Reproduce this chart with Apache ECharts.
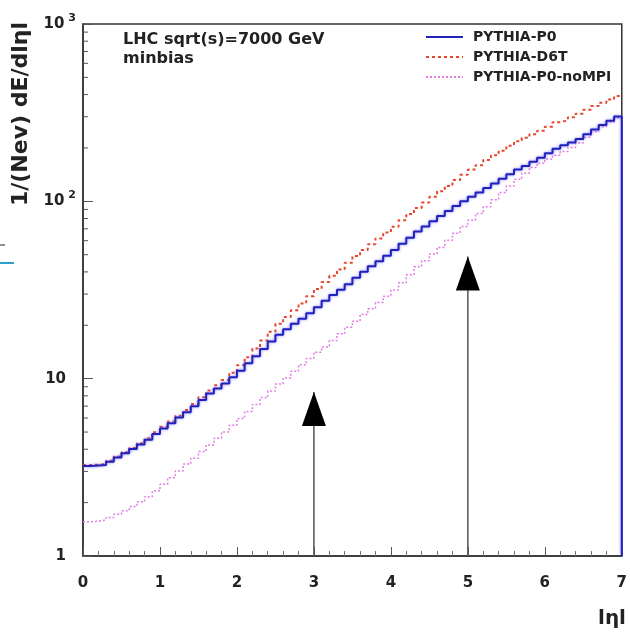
<!DOCTYPE html>
<html>
<head>
<meta charset="utf-8">
<script src="https://cdn.jsdelivr.net/npm/echarts@6/dist/echarts.min.js"></script>
<style>
html,body{margin:0;padding:0;background:#fff;}
#chart{width:630px;height:634px;}
</style>
</head>
<body>
<div id="chart"></div>
<script>
// |eta| histogram: 70 bins of width 0.1 from 0 to 7
const etaMin = 0, etaMax = 7, binWidth = 0.1;
const seriesNames = ['PYTHIA-P0', 'PYTHIA-D6T', 'PYTHIA-P0-noMPI'];
const p0 = [3.22,3.24,3.26,3.40,3.59,3.80,4.01,4.25,4.52,4.88,
            5.24,5.60,6.03,6.47,6.98,7.59,8.24,8.81,9.38,10.2,
            11.1,12.2,13.4,14.7,16.2,17.7,19.0,20.4,21.8,23.4,
            25.3,27.5,29.6,31.7,34.1,37.1,40.1,43.0,46.0,49.4,
            53.2,57.7,62.4,67.5,72.1,77.3,82.6,88.1,94.2,100,
            106,112,119,126,134,142,151,158,167,176,
            187,198,207,215,225,239,254,269,285,301];
const d6t = [3.26,3.27,3.30,3.44,3.64,3.85,4.07,4.32,4.61,4.99,
             5.36,5.73,6.18,6.65,7.19,7.85,8.57,9.18,9.82,10.8,
             11.9,13.2,14.8,16.4,18.4,20.4,22.3,24.3,26.5,29.2,
             32.0,35.1,38.0,41.2,45.0,49.1,53.2,57.3,61.8,66.7,
             71.9,78.2,84.7,91.8,98.6,106,114,122,132,141,
             151,160,171,182,193,206,218,228,239,250,
             263,279,286,298,312,328,345,360,375,392];
const noMPI = [1.56,1.57,1.60,1.65,1.72,1.80,1.90,2.02,2.16,2.33,
               2.54,2.76,3.02,3.30,3.56,3.88,4.23,4.62,5.01,5.46,
               5.96,6.53,7.16,7.82,8.51,9.33,10.1,11.0,12.0,13.0,
               14.1,15.1,16.4,17.9,19.5,21.1,23.0,24.8,26.9,29.2,
               31.6,34.7,38.5,42.7,46.2,50.5,55.0,60.4,66.1,72.1,
               78.3,85.3,93.3,102,112,122,133,144,155,164,
               173,182,191,201,213,230,247,263,279,294];
// arrows (annotation): eta position and tip value
const arrowEta = [3, 5];
const arrowTip = [8.4, 48.8];
// log-axis minor tick values
const yMinorTicks = [2,3,4,5,6,7,8,9,20,30,40,50,60,70,80,90,200,300,400,500,600,700,800,900];

function toSteps(vals, drop) {
  const d = vals.map((v, i) => [+(etaMin + i * binWidth).toFixed(2), v]);
  d.push([etaMax, vals[vals.length - 1]]);
  if (drop) d.push([etaMax, 1]);
  return d;
}

const FONT = 'DejaVu Sans';
const chart = echarts.init(document.getElementById('chart'), null, {renderer: 'canvas'});

const series = [
  {name: seriesNames[0], type: 'line', step: 'end', symbol: 'none', showSymbol: false, data: toSteps(p0, true),
   lineStyle: {color: '#2222bb', width: 2, shadowBlur: 3, shadowColor: 'rgba(90,90,255,0.7)'}, itemStyle: {color: '#2222bb'}, z: 4},
  {name: seriesNames[1], type: 'line', step: 'end', symbol: 'none', showSymbol: false, data: toSteps(d6t, false),
   lineStyle: {color: '#e8452c', width: 2, type: [3, 3]}, itemStyle: {color: '#e8452c'}, z: 3},
  {name: seriesNames[2], type: 'line', step: 'end', symbol: 'none', showSymbol: false, data: toSteps(noMPI, true),
   lineStyle: {color: '#e37be3', width: 1.5, type: [2, 2]}, itemStyle: {color: '#e37be3'}, z: 3},
  {type: 'custom', silent: true, z: 5,
   data: yMinorTicks.map(v => [etaMin, v]),
   renderItem: function (params, api) {
     const p = api.coord([api.value(0), api.value(1)]);
     return {type: 'line', shape: {x1: p[0], y1: p[1], x2: p[0] + 5, y2: p[1]},
             style: {stroke: '#555', lineWidth: 1}};
   }}
];
arrowEta.forEach((x, k) => {
  series.push({type: 'line', symbol: 'none', silent: true, z: 6,
    data: [[x, 1], [x, arrowTip[k]]],
    lineStyle: {color: '#555', width: 1.5}});
  series.push({type: 'scatter', silent: true, z: 7,
    data: [[x, arrowTip[k]]], symbol: 'triangle', symbolSize: [24, 34],
    symbolOffset: [0, '50%'], itemStyle: {color: '#000', opacity: 1}});
});

chart.setOption({
  animation: false,
  backgroundColor: '#fff',
  grid: {left: 83, right: 5, top: 24, bottom: 78, show: true, borderColor: '#333', borderWidth: 1.5, backgroundColor: 'transparent'},
  legend: {
    data: seriesNames, orient: 'vertical', left: 420, top: 25,
    itemWidth: 37, itemHeight: 14, itemGap: 6,
    itemStyle: {opacity: 0},
    textStyle: {fontFamily: FONT, fontWeight: 'bold', fontSize: 14, color: '#222', padding: [0, 0, 0, 5]}
  },
  xAxis: {
    type: 'value', min: etaMin, max: etaMax, interval: 1,
    axisLine: {show: true, lineStyle: {color: '#333', width: 1.5}},
    axisTick: {show: true, inside: true, length: 9, lineStyle: {color: '#555'}},
    minorTick: {show: true, splitNumber: 5, length: 5, lineStyle: {color: '#777'}},
    splitLine: {show: false},
    axisLabel: {margin: 20, fontFamily: FONT, fontWeight: 'bold', fontSize: 15, color: '#222'}
  },
  yAxis: {
    type: 'log', logBase: 10, min: 1, max: 1000,
    axisLine: {show: true, lineStyle: {color: '#333', width: 1.5}},
    axisTick: {show: true, inside: true, length: 10, lineStyle: {color: '#555'}},
    splitLine: {show: false},
    axisLabel: {
      margin: 7, color: '#222',
      formatter: function (v) {
        if (v === 1000) return '{b|10}{s|3}';
        if (v === 100) return '{b|10}{s|2}';
        return '{p|' + v + '}';
      },
      rich: {
        b: {fontFamily: FONT, fontWeight: 'bold', fontSize: 15, color: '#222'},
        s: {fontFamily: FONT, fontWeight: 'bold', fontSize: 11, color: '#222', padding: [0, 0, 12, 4]},
        p: {fontFamily: FONT, fontWeight: 'bold', fontSize: 15, color: '#222', padding: [0, 10, 0, 0]}
      }
    }
  },
  graphic: [
    {type: 'text', left: 123, top: 32, style: {text: 'LHC sqrt(s)=7000 GeV', font: 'bold 16px "DejaVu Sans"', fill: '#222'}},
    {type: 'text', left: 123, top: 51, style: {text: 'minbias', font: 'bold 16px "DejaVu Sans"', fill: '#222'}},
    {type: 'text', x: 21, y: 22, rotation: Math.PI / 2,
     style: {text: '1/(Nev) dE/dl\u03b7l', font: 'bold 22px "DejaVu Sans"', fill: '#222', align: 'right', verticalAlign: 'middle'}},
    {type: 'text', x: 612, y: 619, style: {text: 'l\u03b7l', font: 'bold 20px "DejaVu Sans"', fill: '#222', align: 'center', verticalAlign: 'middle'}},
    {type: 'line', shape: {x1: 0, y1: 263, x2: 14, y2: 263}, style: {stroke: '#2aa0c8', lineWidth: 2}},
    {type: 'line', shape: {x1: 0, y1: 245, x2: 5, y2: 245}, style: {stroke: '#222', lineWidth: 1}}
  ],
  series: series
});
</script>
</body>
</html>
